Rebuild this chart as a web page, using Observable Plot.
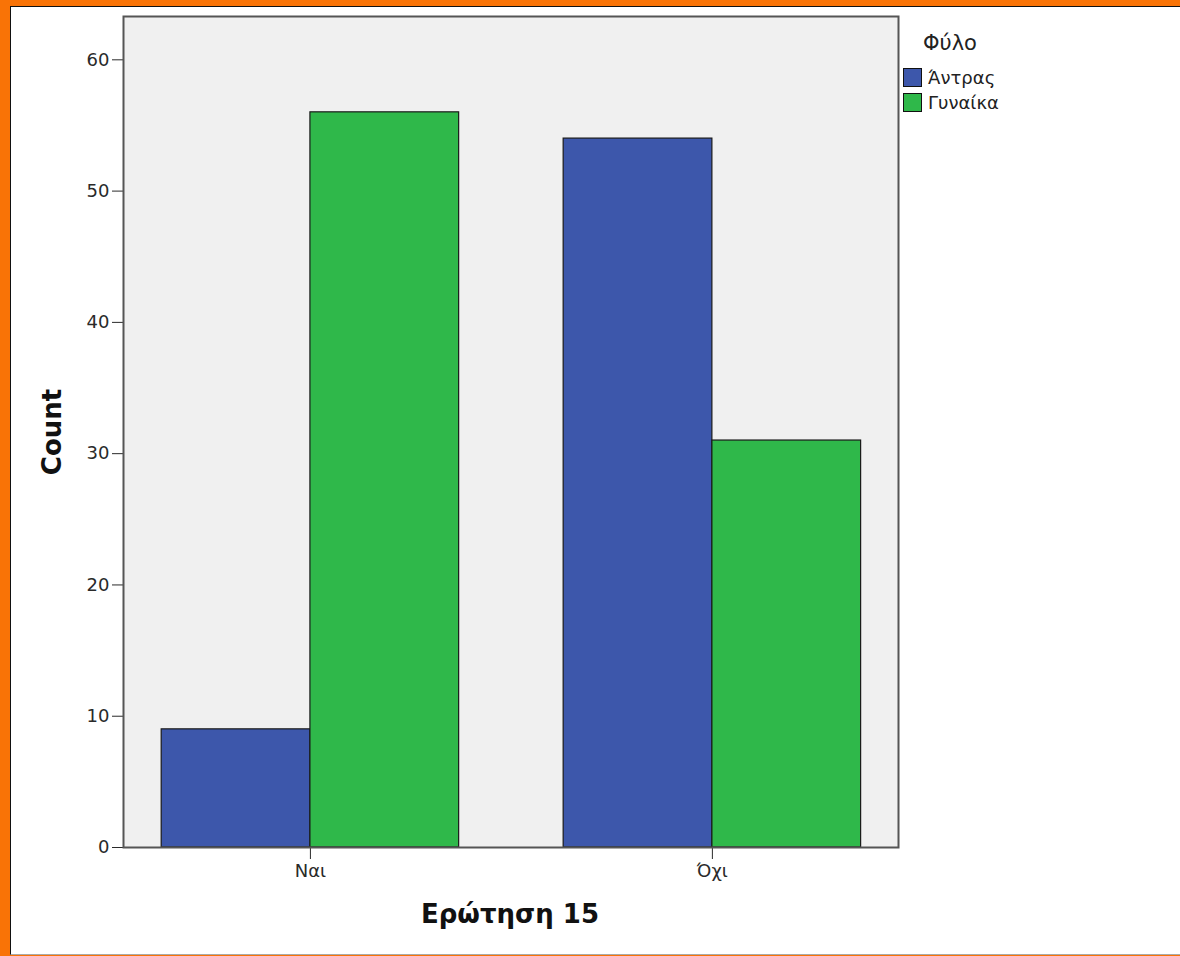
<!DOCTYPE html>
<html>
<head>
<meta charset="utf-8">
<script src="https://cdn.jsdelivr.net/npm/d3@7"></script>
<script src="https://cdn.jsdelivr.net/npm/@observablehq/plot@0.6"></script>
<style>
  html, body { margin: 0; padding: 0; }
  body { background: #f97306; width: 1180px; height: 956px; overflow: hidden; position: relative; font-family: "DejaVu Sans", sans-serif; }
  #panel { position: absolute; left: 10px; top: 6px; width: 1170px; height: 947px; background: #fff; border-left: 1px solid #111; border-top: 1px solid #111; border-bottom: 1px solid #aaa; }
  #chart { position: absolute; left: 0; top: 0; }
  .lbl { position: absolute; font-weight: bold; color: #111; font-size: 26px; white-space: nowrap; }
  #ylab { left: 41px; top: 425px; transform: translate(-50%, -50%) rotate(-90deg); }
  #xlab { left: 499px; top: 907px; transform: translate(-50%, -50%); }
  #legend { position: absolute; left: 892px; top: 24px; color: #222; }
  #legend .title { font-size: 21px; margin-left: 20px; margin-bottom: 10px; }
  #legend .item { display: flex; align-items: center; font-size: 18px; height: 25px; }
  #legend .sw { width: 17px; height: 17px; border: 1px solid #111; margin-right: 6px; }
</style>
</head>
<body>
<div id="panel">
  <div id="chart"></div>
  <div id="ylab" class="lbl">Count</div>
  <div id="xlab" class="lbl">Ερώτηση 15</div>
  <div id="legend"></div>
</div>
<script>
const categories = ["Ναι", "Όχι"];
const sexes = ["Άντρας", "Γυναίκα"];
const menCounts = [9, 54];
const womenCounts = [56, 31];
const yTicks = [0, 10, 20, 30, 40, 50, 60];
const colors = ["#3d57ab", "#2fb84a"];

const barHalf = 0.37;
const rows = [];
categories.forEach((c, i) => {
  rows.push({cat: i, sex: sexes[0], x1: i - barHalf, x2: i, value: menCounts[i]});
  rows.push({cat: i, sex: sexes[1], x1: i, x2: i + barHalf, value: womenCounts[i]});
});

const chart = Plot.plot({
  width: 1169,
  height: 947,
  marginLeft: 112,
  marginTop: 9,
  marginRight: 282,
  marginBottom: 107,
  style: {fontFamily: "DejaVu Sans", fontSize: "18px", color: "#2a2a2a", background: "transparent"},
  x: {type: "linear", domain: [-0.465, 1.463], ticks: [0, 1], tickFormat: i => categories[i], label: null, tickSize: 12, tickPadding: 5},
  y: {domain: [0, 63.3], ticks: yTicks, label: null, tickSize: 11, tickPadding: 3},
  color: {domain: sexes, range: colors},
  marks: [
    Plot.frame({fill: "#f0f0f0"}),
    Plot.rectY(rows, {x1: "x1", x2: "x2", y1: 0, y2: "value", fill: "sex", stroke: "#1a1a1a", strokeWidth: 1.2}),
    Plot.frame({stroke: "#555", strokeWidth: 2})
  ]
});
document.getElementById("chart").appendChild(chart);

const legend = document.getElementById("legend");
legend.innerHTML = `<div class="title">Φύλο</div>` + sexes.map((s, i) =>
  `<div class="item"><div class="sw" style="background:${colors[i]}"></div>${s}</div>`).join("");
</script>
</body>
</html>
